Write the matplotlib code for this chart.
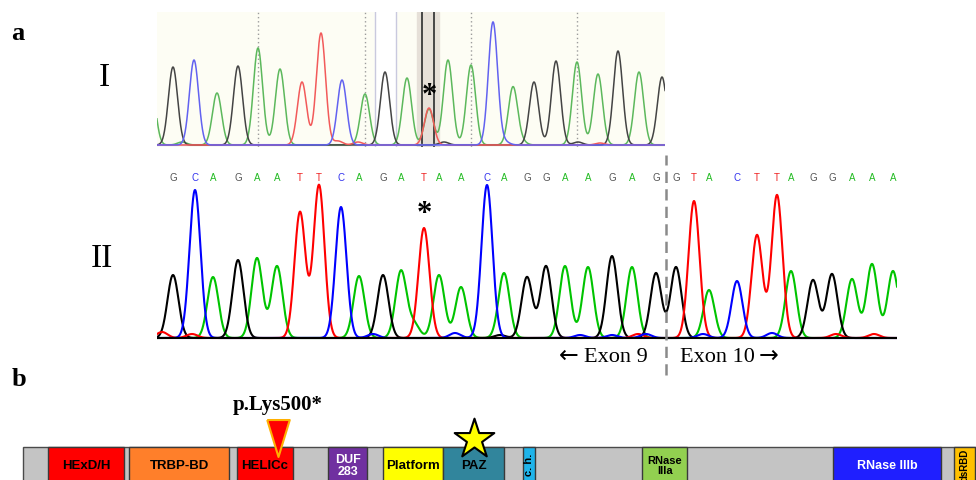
import numpy as np
import matplotlib.pyplot as plt

W, H = 976, 480

# ---- panel a, trace I (patient, heterozygous) ----
seq_1 = list("GCAGAATTCAGATAACAGGAAGAG")
pos_1 = [173, 194, 217, 238, 258, 280, 302, 321, 342, 365, 385, 407,
         429, 448, 471, 493, 513, 534, 556, 577, 598, 618, 639, 662]
h_1 = [78, 85, 52, 79, 97, 76, 63, 112, 65, 51, 73, 67,
       37, 85, 80, 123, 58, 63, 84, 83, 71, 94, 73, 68]
# second allele under the star + peak cut at the left edge
extra_base_1 = ["A", "A"]
extra_pos_1 = [429, 151]
extra_h_1 = [36, 60]
# small background bumps
noise_base_1 = ["A", "T", "T", "G", "A", "C", "G", "T"]
noise_pos_1 = [182, 338, 358, 444, 522, 505, 578, 600]
noise_h_1 = [3, 4, 3, 3, 3, 3, 3, 2]

# ---- panel a, trace II (control / cDNA) ----
seq_2 = list("GCAGAATTCAGATAACAGGAAGAGGTACTTAGGAAA")
pos_2 = [173, 195, 213, 238, 257, 277, 300, 319, 341, 359,
         383, 401, 424, 439, 461, 487, 504, 527, 546, 565,
         588, 612, 632, 656, 676, 694, 709, 737, 757, 777,
         791, 813, 832, 852, 872, 893]
h_2 = [63, 148, 61, 78, 80, 72, 126, 153, 131, 62,
       63, 67, 110, 63, 51, 153, 65, 61, 72, 72,
       71, 82, 71, 65, 71, 137, 48, 57, 103, 143,
       67, 58, 64, 59, 74, 67]
exon9_len = 24
noise_base_2 = ["A", "T", "T", "C", "C", "G", "C", "C", "T", "C", "C", "C", "T", "T"]
noise_pos_2 = [414, 162, 192, 373, 455, 500, 580, 612, 638, 646, 703, 772, 836, 874]
noise_h_2 = [14, 6, 4, 4, 5, 3, 3, 3, 4, 4, 4, 5, 4, 4]

# ---- panel b, DICER1 domains (amino acid positions) ----
protein_len = 1867
domain_names = ["HExD/H", "TRBP-BD", "HELICc", "DUF\n283", "Platform", "PAZ",
                "c. h.", "RNase\nIIIa", "RNase IIIb", "dsRBD"]
domain_start = [49, 208, 420, 598, 706, 824, 980, 1214, 1588, 1824]
domain_end = [198, 404, 529, 675, 824, 943, 1004, 1302, 1800, 1867]
domain_colors = ["#ff0000", "#ff7f2a", "#ff0000", "#7030a0", "#ffff00", "#31859c",
                 "#1fb4ea", "#92d050", "#1f1fff", "#ffc000"]
domain_text = ["black", "black", "black", "white", "black", "black",
               "black", "black", "white", "black"]
domain_rot = [0, 0, 0, 0, 0, 0, 90, 0, 0, 90]
domain_size = [9.5, 9.5, 9.5, 9, 9.5, 9.5, 8, 8, 9, 7]
mutation = 500
mutation_label = "p.Lys500*"

colors_1 = {"G": "#444444", "A": "#5cb85c", "T": "#f25a5a", "C": "#6262f0"}
colors_2 = {"G": "#000000", "A": "#00c400", "T": "#ff0000", "C": "#0000ff"}
letter_colors = {"G": "#555555", "A": "#22bb22", "T": "#ee2222", "C": "#3333ee"}

serif = ["Liberation Serif", "DejaVu Serif"]
sans = ["Liberation Sans", "DejaVu Sans"]


def box(x0, y0, x1, y1):
    # pixel box (origin top left) -> figure fractions
    return [x0 / W, 1 - y1 / H, (x1 - x0) / W, (y1 - y0) / H]


def clean(ax):
    ax.set_xticks([])
    ax.set_yticks([])
    for s in ax.spines.values():
        s.set_visible(False)


def draw_trace(ax, bases, pos, hts, colors, sigma, lw, xs):
    for b in "AGTC":
        y = np.zeros_like(xs)
        for s, p, h in zip(bases, pos, hts):
            if s == b:
                y += h * np.exp(-0.5 * ((xs - p) / sigma) ** 2)
        ax.plot(xs, y, color=colors[b], lw=lw, zorder=3)


fig = plt.figure(figsize=(W / 100, H / 100), dpi=100)

# trace I
ax1 = fig.add_axes(box(157, 12, 665, 147), facecolor="#fdfdf4")
ax1.set_xlim(157, 665)
ax1.set_ylim(-2, 133)
clean(ax1)
for p in pos_1[4::5]:
    ax1.axvline(p, color="#9c9c9c", ls=(0, (1, 2)), lw=1, zorder=1)
sel = pos_1[10]
ax1.axvspan(sel - 10.5, sel + 10.5, color="white", zorder=0.5)
for x in (sel - 10.5, sel + 10.5):
    ax1.axvline(x, color="#c9c9de", lw=1, zorder=1)
star_1 = pos_1[12] - 1
ax1.axvspan(star_1 - 11, star_1 + 11, color="#e6e0d8", zorder=0.5)
for x in (star_1 - 6.2, star_1 + 6.2):
    ax1.axvline(x, color="#3a3a3a", lw=1.3, zorder=1)
ax1.axhline(0, color="#d2d2f2", lw=1.6, zorder=1)
xs1 = np.linspace(140, 680, 3000)
draw_trace(ax1, seq_1 + extra_base_1 + noise_base_1, pos_1 + extra_pos_1 + noise_pos_1,
           h_1 + extra_h_1 + noise_h_1, colors_1, 4.6, 1.1, xs1)
ax1.text(pos_1[12], 41, "*", ha="center", va="baseline", fontsize=22,
         fontweight="bold", family=serif, zorder=5)

# trace II
ax2 = fig.add_axes(box(157, 150, 897, 345))
ax2.set_xlim(157, 897)
ax2.set_ylim(-7, 188)
clean(ax2)
xs2 = np.linspace(157, 897, 4000)
draw_trace(ax2, seq_2 + noise_base_2, pos_2 + noise_pos_2, h_2 + noise_h_2,
           colors_2, 5.5, 1.5, xs2)
ax2.axhline(0, color="black", lw=1.5, zorder=4)
for s, p in zip(seq_2, pos_2):
    ax2.text(p, 160, s, ha="center", va="center", fontsize=7,
             color=letter_colors[s], family=sans)
ax2.text(pos_2[12], 116, "*", ha="center", va="baseline", fontsize=22,
         fontweight="bold", family=serif)
boundary = (pos_2[exon9_len - 1] + pos_2[exon9_len]) / 2
ax2.axvline(boundary, ymin=-0.155, ymax=0.975, color="#8a8a8a", lw=1.8,
            ls=(0, (4.5, 2.5)), clip_on=False, zorder=5)
ax2.text(boundary - 50, -19, "Exon 9", ha="center", va="center",
         fontsize=16, family=serif)
ax2.text(boundary + 51.5, -19, "Exon 10", ha="center", va="center",
         fontsize=16, family=serif)
ax2.text(boundary - 97.5, -18, "\u2190", ha="center", va="center",
         fontsize=17, family=["DejaVu Sans"])
ax2.text(boundary + 103, -18, "\u2192", ha="center", va="center",
         fontsize=17, family=["DejaVu Sans"])

# panel labels
for txt, x, y, size, weight in [("a", 18, 33, 19, "bold"), ("b", 19, 379, 19, "bold"),
                                ("I", 104, 78, 24, "normal"), ("II", 102, 259, 24, "normal")]:
    fig.text(x / W, 1 - y / H, txt, ha="center", va="center", fontsize=size,
             fontweight=weight, family=serif)

# domain diagram
ax3 = fig.add_axes(box(0, 385, 976, 480))
ax3.set_xlim(-45, 1868)
ax3.set_ylim(0, 95)
ax3.axis("off")
ax3.barh(11.5, protein_len, left=1, height=43, color="#c4c4c4",
         edgecolor="#4a4a4a", lw=1, zorder=1)
for name, s, e, c, tc, rot, fs in zip(domain_names, domain_start, domain_end,
                                      domain_colors, domain_text, domain_rot, domain_size):
    ax3.barh(11.5, e - s, left=s, height=43, color=c, edgecolor="#3a3a3a",
             lw=1, zorder=2)
    ax3.text((s + e) / 2, 15 if rot else 14, name, ha="center", va="center", fontsize=fs,
             fontweight="bold", color=tc, rotation=rot, family=sans,
             linespacing=1.1, zorder=3)

tri = [(-0.61, 1), (0.61, 1), (0, -1), (-0.61, 1)]
ax3.scatter([mutation], [42.5], marker=tri, s=708, color="#ff0000",
            edgecolors="#ffb000", linewidths=1.5, zorder=6)
ax3.text(mutation, 75, mutation_label, ha="center", va="center", fontsize=15,
         fontweight="bold", family=serif)
paz = domain_names.index("PAZ")
ax3.scatter([(domain_start[paz] + domain_end[paz]) / 2], [41.5], marker="*",
            s=900, color="#ffff00", edgecolors="black", linewidths=1.5, zorder=6)

fig.savefig("out.png", dpi=100)
